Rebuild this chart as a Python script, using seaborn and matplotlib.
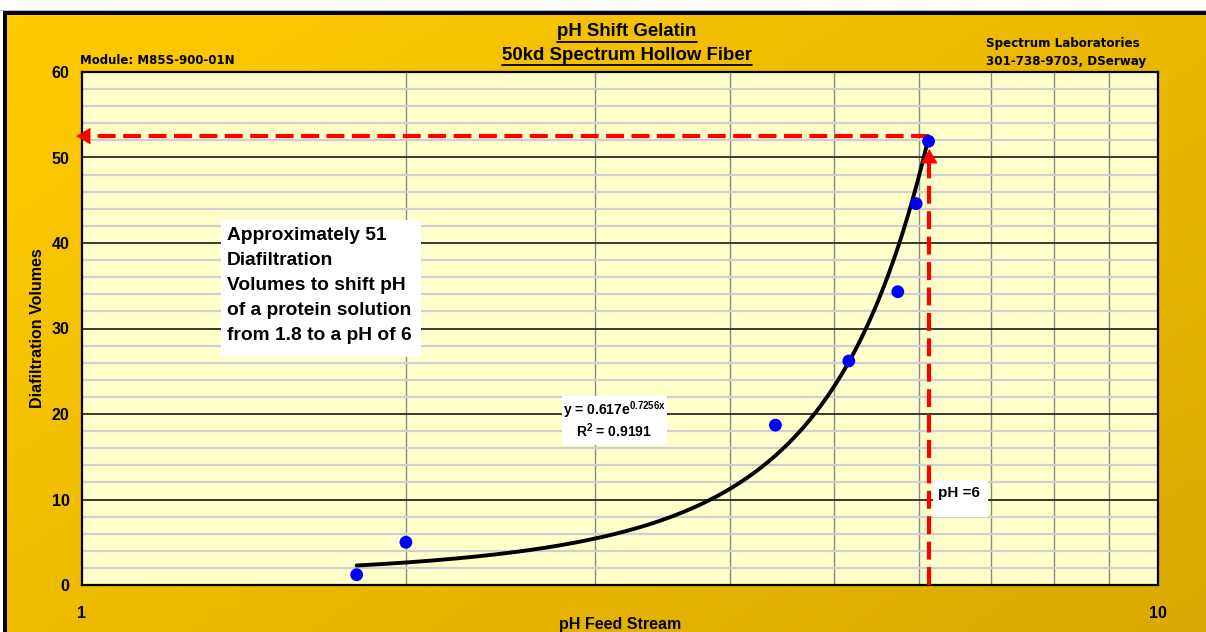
import numpy as np
import matplotlib
matplotlib.use("Agg")
import matplotlib.pyplot as plt
import seaborn as sns
from matplotlib.lines import Line2D
from matplotlib.patches import Rectangle
from matplotlib.ticker import LogLocator, MultipleLocator, NullFormatter

# ---------------- data ----------------
ph_feed = [1.80, 2.00, 4.41, 5.16, 5.73, 5.96, 6.12]
dia_volumes = [1.2, 5.0, 18.7, 26.2, 34.3, 44.6, 51.9]
fit_a = 0.617
fit_b = 0.7256
r_squared = 0.9191
target_ph = 6.13
target_dv = 52.5
x_ticks = [1, 10]
x_tick_labels = ["1", "10"]
y_ticks = [0, 10, 20, 30, 40, 50, 60]
y_tick_labels = ["0", "10", "20", "30", "40", "50", "60"]
note_lines = ["Approximately 51", "Diafiltration", "Volumes to shift pH",
              "of a protein solution", "from 1.8 to a pH of 6"]

sns.set_style("white")
plt.rcParams["font.family"] = ["Liberation Sans", "DejaVu Sans"]
plt.rcParams["text.color"] = "black"
plt.rcParams["axes.labelcolor"] = "black"
plt.rcParams["xtick.color"] = "black"
plt.rcParams["ytick.color"] = "black"
plt.rcParams["mathtext.fontset"] = "custom"
plt.rcParams["mathtext.rm"] = "Liberation Sans:bold"
plt.rcParams["mathtext.it"] = "Liberation Sans:bold"
plt.rcParams["mathtext.bf"] = "Liberation Sans:bold"

W, H = 1206, 632
fig = plt.figure(figsize=(W / 100, H / 100), dpi=100)


def fx(px):
    return px / W


def fy(py):
    return 1 - py / H


# ---------------- background gradient ----------------
bg = fig.add_axes([0, 0, 1, 1], zorder=-10)
bg.set_axis_off()
yy, xx = np.mgrid[0:1:200j, 0:1:300j]
t = np.clip(xx * 0.55 + yy * 0.45, 0, 1)
c0 = np.array([255, 204, 0]) / 255
c1 = np.array([218, 168, 0]) / 255
img = c0[None, None, :] * (1 - t[..., None]) + c1[None, None, :] * t[..., None]
bg.imshow(img, extent=[0, 1, 0, 1], aspect="auto", origin="upper")
bg.set_xlim(0, 1)
bg.set_ylim(0, 1)
# white margins + black frame
bg.add_patch(Rectangle((0, fy(10.5)), 1, 1 - fy(10.5), color="white", lw=0))
bg.add_patch(Rectangle((0, 0), fx(3), 1, color="white", lw=0))
bg.add_patch(Rectangle((fx(3), fy(14.5)), 1, fy(11) - fy(14.5), color="black", lw=0))
bg.add_patch(Rectangle((fx(3), 0), fx(7) - fx(3), fy(11), color="black", lw=0))
bg.add_line(Line2D([0, 1], [fy(10), fy(10)], color="#bbbbbb", lw=0.8))

# ---------------- main axes ----------------
ax = fig.add_axes([fx(82), fy(585), fx(1158) - fx(82), (585 - 72) / H])
ax.set_facecolor("#FFFFCC")
ax.set_xscale("log")
ax.set_xlim(x_ticks[0], x_ticks[-1])
ax.set_ylim(y_ticks[0], y_ticks[-1])

ax.xaxis.set_minor_locator(LogLocator(base=10, subs=range(2, 10)))
ax.xaxis.set_minor_formatter(NullFormatter())
ax.yaxis.set_minor_locator(MultipleLocator(2))
ax.grid(True, which="minor", axis="x", color="#8a8a8a", lw=1.0, zorder=1)
ax.grid(True, which="minor", axis="y", color="#cfcfcf", lw=1.6, zorder=0.5)
ax.grid(True, which="major", axis="y", color="#2a2a2a", lw=1.3, zorder=1)
ax.set_axisbelow(True)

ax.set_xticks(x_ticks, labels=x_tick_labels)
ax.set_yticks(y_ticks, labels=y_tick_labels)
ax.tick_params(which="major", direction="out", length=5, width=1.2, color="black",
               labelcolor="black", labelsize=11.5)
ax.tick_params(axis="x", which="major", pad=10)
ax.tick_params(axis="y", which="major", pad=4)
ax.tick_params(which="minor", length=0)
for lab in ax.get_xticklabels() + ax.get_yticklabels():
    lab.set_fontweight("bold")
for sp in ax.spines.values():
    sp.set_color("black")
    sp.set_linewidth(1.6)
    sp.set_visible(True)

fig.text(fx(38), fy(328), "Diafiltration Volumes", rotation=90, ha="center",
         va="center", fontsize=11.5, fontweight="bold")
fig.text(fx(620), fy(624), "pH Feed Stream", ha="center", va="center",
         fontsize=11.5, fontweight="bold")

# ---------------- trendline ----------------
xs = np.linspace(min(ph_feed), max(ph_feed), 300)
ys = fit_a * np.exp(fit_b * xs)
sns.lineplot(x=xs, y=ys, ax=ax, color="black", lw=2.8, zorder=4, legend=False)

# ---------------- red dashed arrows ----------------
x0 = ax.get_xlim()[0]
ax.plot([target_ph, x0 * 1.025], [target_dv, target_dv], color="#FF0000", lw=3.0,
        dashes=(4.3, 1.8), zorder=5, dash_capstyle="butt")
ax.plot([target_ph, target_ph], [0, target_dv - 3.2], color="#FF0000", lw=3.0,
        dashes=(4.3, 1.8), zorder=5, dash_capstyle="butt")
head = dict(arrowstyle="-|>,head_length=0.7,head_width=0.4", color="#FF0000", lw=0,
            shrinkA=0, shrinkB=0, mutation_scale=15)
ax.annotate("", xy=(x0 * 0.987, target_dv), xytext=(x0 * 1.03, target_dv),
            arrowprops=head, annotation_clip=False, zorder=5)
ax.annotate("", xy=(target_ph, target_dv - 1.5), xytext=(target_ph, target_dv - 3.5),
            arrowprops=head, annotation_clip=False, zorder=5)

# ---------------- data points ----------------
sns.scatterplot(x=ph_feed, y=dia_volumes, ax=ax, color="#0000FF", s=85,
                edgecolor="none", zorder=6, clip_on=False, legend=False)

# ---------------- annotation boxes ----------------
def white_box(x1, y1, x2, y2):
    fig.add_artist(Rectangle((fx(x1), fy(y2)), fx(x2) - fx(x1), fy(y1) - fy(y2),
                             facecolor="white", edgecolor="none", zorder=3,
                             transform=fig.transFigure))


white_box(221, 220, 421, 357)
for i, line in enumerate(note_lines):
    fig.text(fx(227), fy(240 + 25 * i), line, ha="left", va="baseline",
             fontsize=13.8, fontweight="bold", zorder=4)

white_box(562, 396, 667, 445)
fig.text(fx(614), fy(415), r"y = %.3fe$^{%.4fx}$" % (fit_a, fit_b), ha="center",
         va="baseline", fontsize=10, fontweight="bold", zorder=4)
fig.text(fx(614), fy(437), r"R$^{2}$ = %.4f" % r_squared, ha="center",
         va="baseline", fontsize=10, fontweight="bold", zorder=4)

white_box(933, 480, 988, 517)
fig.text(fx(938), fy(497), "pH =6", ha="left", va="baseline", fontsize=11,
         fontweight="bold", zorder=4)

# ---------------- titles & corner texts ----------------
t1 = fig.text(fx(627), fy(32), "pH Shift Gelatin", ha="center", va="center",
              fontsize=13.4, fontweight="bold")
t2 = fig.text(fx(627), fy(55), "50kd Spectrum Hollow Fiber", ha="center", va="center",
              fontsize=13.4, fontweight="bold")
fig.text(fx(80), fy(61), "Module: M85S-900-01N", ha="left", va="center",
         fontsize=8.5, fontweight="bold", family="DejaVu Sans")
fig.text(fx(986), fy(44), "Spectrum Laboratories", ha="left", va="center",
         fontsize=8.6, fontweight="bold", family="DejaVu Sans")
fig.text(fx(986), fy(61), "301-738-9703, DSerway", ha="left", va="center",
         fontsize=8.6, fontweight="bold", family="DejaVu Sans")

# underline titles
fig.canvas.draw()
r = fig.canvas.get_renderer()
for tt in (t1, t2):
    bb = tt.get_window_extent(r).transformed(fig.transFigure.inverted())
    fig.add_artist(Line2D([bb.x0, bb.x1], [bb.y0 - 1.0 / H, bb.y0 - 1.0 / H],
                          color="black", lw=1.3, transform=fig.transFigure))

fig.savefig("out.png", dpi=100)
